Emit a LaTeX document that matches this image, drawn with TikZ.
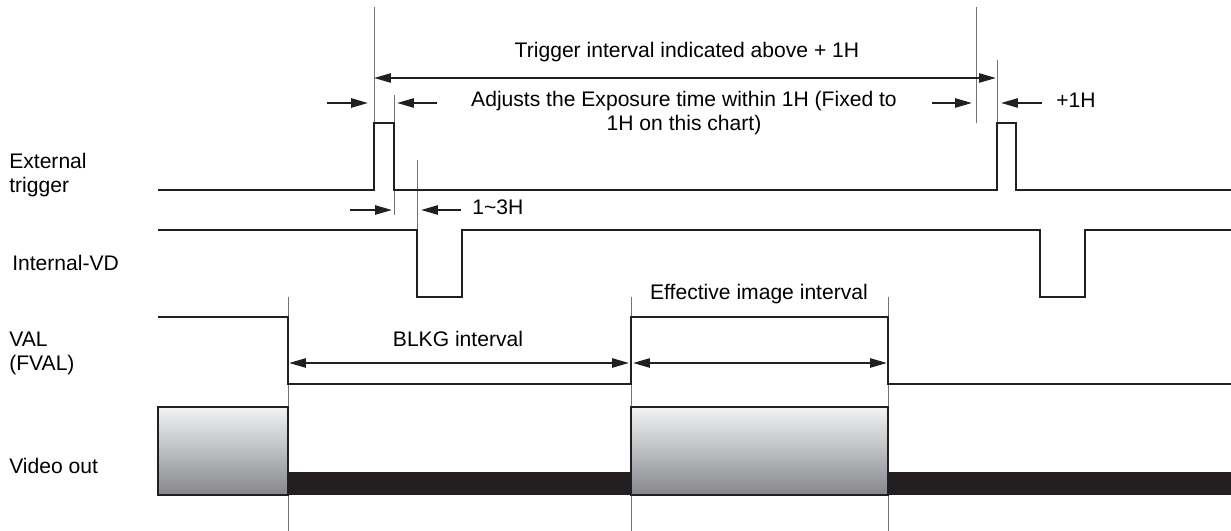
\documentclass[tikz,border=0pt]{standalone}
\usepackage{fontspec}
\setmainfont{Liberation Sans}
\usetikzlibrary{arrows.meta,positioning}
\definecolor{ink}{HTML}{231F20}
\definecolor{vtop}{HTML}{F2F3F4}
\definecolor{vbot}{HTML}{86878B}
\tikzset{sig/.style={draw=ink,line width=1.4pt},
  guide/.style={draw=black!55,line width=0.6pt},
  dim/.style={draw=ink,line width=1.4pt},
  lab/.style={inner sep=0pt,font=\fontsize{15}{17}\selectfont,align=left},
  vid/.style={draw=ink,line width=1.4pt,top color=vtop,bottom color=vbot}}

\begin{document}
\begin{tikzpicture}[x=0.025cm,y=-0.025cm,>={Triangle[length=12pt,width=6.5pt]}]
  \useasboundingbox (0,0) rectangle (1231,531);
  % guide lines
  \draw[guide] (374,7) -- (374,190);
  \draw[guide] (394,95) -- (394,215);
  \draw[guide] (417,160) -- (417,297);
  \draw[guide] (976,7) -- (976,123);
  \draw[guide] (997,60) -- (997,190);
  \foreach \x in {288,631,888}
    \draw[guide] (\x,297) -- (\x,531);

  % signal names
  \node[lab,anchor=north west] (ext) at (9,153) {External\\trigger};
  \node[lab,anchor=base west] (ivd) at (12,270) {Internal-VD};
  \node[lab,anchor=north west] (val) at (9,332) {VAL\\(FVAL)};
  \node[lab,anchor=base west] (vout) at (9,473) {Video out};

  % waveforms
  \draw[sig] (158,190) -| (374,123) -| (394,190) -| (997,123) -| (1016,190) -- (1231,190);
  \draw[sig] (158,230) -| (417,297) -| (462,230) -| (1040,297) -| (1085,230) -- (1231,230);
  \draw[sig] (158,317) -| (288,384) -| (631,317) -| (888,384) -- (1231,384);
  \shade[vid] (158,407) rectangle (288,495);
  \fill[ink] (288,472) rectangle (631,495);
  \shade[vid] (631,407) rectangle (888,495);
  \fill[ink] (888,472) rectangle (1231,495);

  % trigger interval
  \coordinate (ti1) at (374,78);
  \coordinate (ti2) at (996,78);
  \draw[dim,<->] (ti1) -- (ti2);
  \node[lab,anchor=base] (tiv) at (687,58) {Trigger interval indicated above + 1H};

  % exposure
  \coordinate (e1) at (327,103); \coordinate (e2) at (368,103);
  \coordinate (e3) at (437,103); \coordinate (e4) at (397,103);
  \coordinate (e5) at (932,103); \coordinate (e6) at (972,103);
  \coordinate (e7) at (1042,103); \coordinate (e8) at (1001,103);
  \draw[dim,->] (e1) -- (e2);
  \draw[dim,->] (e3) -- (e4);
  \draw[dim,->] (e5) -- (e6);
  \draw[dim,->] (e7) -- (e8);
  \node[lab,align=center,anchor=north] (exp) at (684,91) {Adjusts the Exposure time within 1H (Fixed to\\1H on this chart)};
  \node[lab,anchor=base west] (plus) at (1056,108) {+1H};

  % 1~3H
  \coordinate (h1) at (350,210); \coordinate (h2) at (392,210);
  \coordinate (h3) at (461,210); \coordinate (h4) at (421,210);
  \draw[dim,->] (h1) -- (h2);
  \draw[dim,->] (h3) -- (h4);
  \node[lab,anchor=base west] (dly) at (472,215) {1\textasciitilde 3H};

  % BLKG / effective
  \coordinate (b1) at (289,363); \coordinate (b2) at (629,363);
  \coordinate (f1) at (633,363); \coordinate (f2) at (887,363);
  \draw[dim,<->] (b1) -- (b2);
  \draw[dim,<->] (f1) -- (f2);
  \node[lab,anchor=base] (blkg) at (458,346) {BLKG interval};
  \node[lab,anchor=base] (eff) at (759,299) {Effective image interval};
\end{tikzpicture}
\end{document}
